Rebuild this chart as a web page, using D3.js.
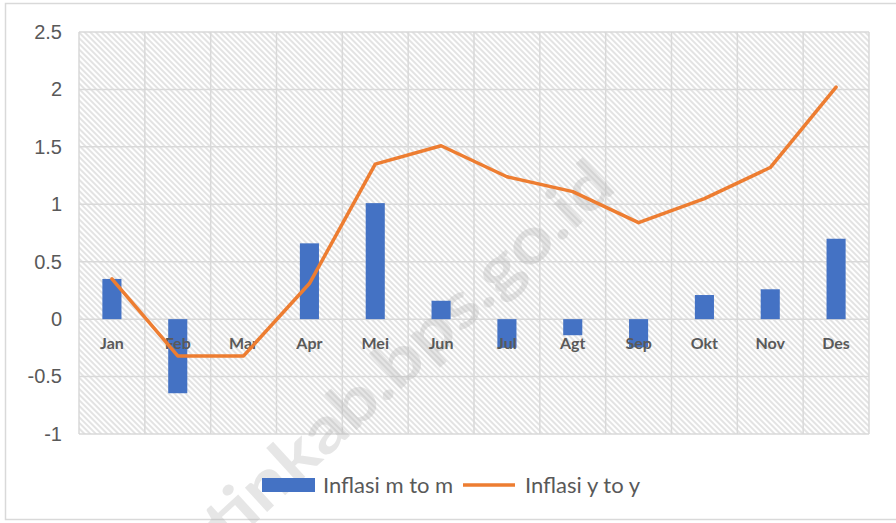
<!DOCTYPE html>
<html>
<head>
<meta charset="utf-8">
<script src="https://cdn.jsdelivr.net/npm/d3@7"></script>
<style>
  body { margin: 0; background: #fff; }
  svg { display: block; font-family: Lato, "Open Sans", sans-serif; }
</style>
</head>
<body>
<div id="app"></div>
<script>
const WIDTH = 896;
const HEIGHT = 523;

const months = ["Jan", "Feb", "Mar", "Apr", "Mei", "Jun", "Jul", "Agt", "Sep", "Okt", "Nov", "Des"];
const mtm = [0.35, -0.645, 0, 0.66, 1.01, 0.16, -0.25, -0.14, -0.245, 0.21, 0.26, 0.70];
const yty = [0.35, -0.32, -0.32, 0.31, 1.35, 1.51, 1.24, 1.11, 0.84, 1.05, 1.32, 2.02];
const yTicks = [-1, -0.5, 0, 0.5, 1, 1.5, 2, 2.5];
const seriesNames = ["Inflasi m to m", "Inflasi y to y"];

const BAR_COLOR = "#4472C4";
const LINE_COLOR = "#ED7D31";
const GRID_COLOR = "#d9d9d9";
const TEXT_COLOR = "#595959";

const plot = { left: 79, right: 869, top: 32, bottom: 434 };

const svg = d3.select("#app")
  .append("svg")
  .attr("width", WIDTH)
  .attr("height", HEIGHT);

// hatched plot background ("\" stripes)
const defs = svg.append("defs");
const pat = defs.append("pattern")
  .attr("id", "hatch")
  .attr("patternUnits", "userSpaceOnUse")
  .attr("width", 4)
  .attr("height", 4)
  .attr("patternTransform", "rotate(-45)");
pat.append("rect").attr("width", 4).attr("height", 4).attr("fill", "#fff");
pat.append("line")
  .attr("x1", 1).attr("y1", 0).attr("x2", 1).attr("y2", 4)
  .attr("stroke", "#d4d4d4")
  .attr("stroke-width", 1.3);

// chart frame
svg.append("rect")
  .attr("x", 5.5).attr("y", 3.5)
  .attr("width", WIDTH).attr("height", 516)
  .attr("fill", "none")
  .attr("stroke", "#d9d9d9")
  .attr("stroke-width", 1.5);

const x = d3.scaleBand()
  .domain(months)
  .range([plot.left, plot.right])
  .paddingInner(0.71)
  .paddingOuter(0.355);

const xCat = d3.scaleBand()
  .domain(months)
  .range([plot.left, plot.right]);

const y = d3.scaleLinear()
  .domain([-1, 2.5])
  .range([plot.bottom, plot.top]);

svg.append("rect")
  .attr("x", plot.left).attr("y", plot.top)
  .attr("width", plot.right - plot.left)
  .attr("height", plot.bottom - plot.top)
  .attr("fill", "url(#hatch)");

// gridlines
const grid = svg.append("g").attr("class", "grid");
grid.selectAll("line.h")
  .data(yTicks)
  .join("line")
  .attr("class", "h")
  .attr("x1", plot.left).attr("x2", plot.right)
  .attr("y1", d => y(d)).attr("y2", d => y(d))
  .attr("stroke", GRID_COLOR)
  .attr("stroke-width", 1.5);
grid.selectAll("line.v")
  .data(months.concat(["end"]))
  .join("line")
  .attr("class", "v")
  .attr("x1", (d, i) => i < months.length ? xCat(d) : plot.right)
  .attr("x2", (d, i) => i < months.length ? xCat(d) : plot.right)
  .attr("y1", plot.top).attr("y2", plot.bottom)
  .attr("stroke", GRID_COLOR)
  .attr("stroke-width", 1.5);

// y axis labels
const yAxis = svg.append("g")
  .attr("transform", `translate(${plot.left},0)`)
  .call(d3.axisLeft(y).tickValues(yTicks).tickSize(0).tickPadding(17).tickFormat(d => String(d)));
yAxis.select(".domain").remove();
yAxis.selectAll("text")
  .attr("fill", TEXT_COLOR)
  .attr("font-size", 20);

// watermark
svg.append("text")
  .attr("transform", "translate(228,548) rotate(-42.6)")
  .attr("font-size", 64)
  .attr("font-weight", "bold")
  .attr("fill", "#b0b0b0")
  .attr("fill-opacity", 0.32)
  .attr("textLength", 530)
  .attr("lengthAdjust", "spacingAndGlyphs")
  .text("tinkab.bps.go.id");

// bars
svg.append("g")
  .selectAll("rect")
  .data(mtm)
  .join("rect")
  .attr("x", (d, i) => x(months[i]))
  .attr("width", x.bandwidth())
  .attr("y", d => y(Math.max(0, d)))
  .attr("height", d => Math.abs(y(d) - y(0)))
  .attr("fill", BAR_COLOR);

// category labels
svg.append("g")
  .selectAll("text")
  .data(months)
  .join("text")
  .attr("x", d => xCat(d) + xCat.bandwidth() / 2)
  .attr("y", y(0) + 30)
  .attr("text-anchor", "middle")
  .attr("font-size", 16)
  .attr("font-weight", "bold")
  .attr("fill", TEXT_COLOR)
  .text(d => d);

// line
const line = d3.line()
  .x((d, i) => xCat(months[i]) + xCat.bandwidth() / 2)
  .y(d => y(d));
svg.append("path")
  .datum(yty)
  .attr("d", line)
  .attr("fill", "none")
  .attr("stroke", LINE_COLOR)
  .attr("stroke-width", 3.5)
  .attr("stroke-linejoin", "round")
  .attr("stroke-linecap", "round");

// legend
const legend = svg.append("g");
legend.append("rect")
  .attr("x", 262).attr("y", 478)
  .attr("width", 53).attr("height", 14)
  .attr("fill", BAR_COLOR);
legend.append("text")
  .attr("x", 323).attr("y", 493)
  .attr("font-size", 22)
  .attr("fill", TEXT_COLOR)
  .text(seriesNames[0]);
legend.append("line")
  .attr("x1", 463).attr("x2", 515)
  .attr("y1", 485).attr("y2", 485)
  .attr("stroke", LINE_COLOR)
  .attr("stroke-width", 3.5);
legend.append("text")
  .attr("x", 525).attr("y", 493)
  .attr("font-size", 22)
  .attr("fill", TEXT_COLOR)
  .text(seriesNames[1]);
</script>
</body>
</html>
